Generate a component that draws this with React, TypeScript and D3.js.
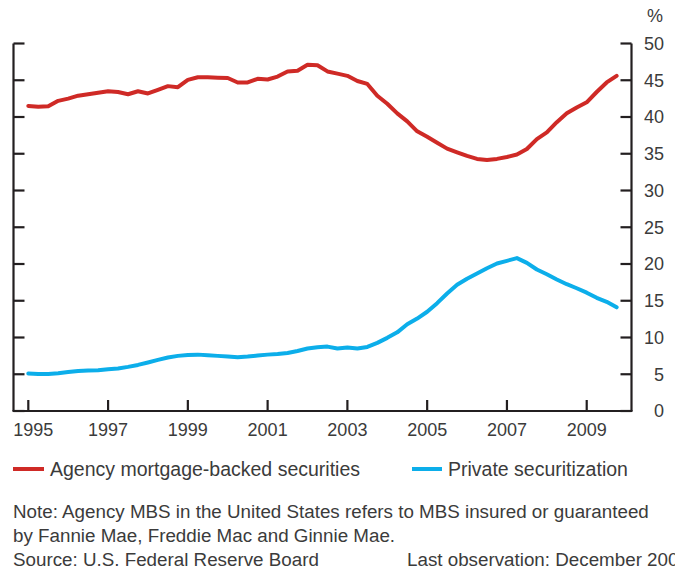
import React from "react";
import * as d3 from "d3";

const startYear = 1995;
const quarters: string[] = d3.range(60).map((i) => `${startYear + Math.floor(i / 4)}Q${(i % 4) + 1}`);

const agency = [
  41.5, 41.4, 41.45, 42.2, 42.5, 42.9, 43.1, 43.3, 43.5, 43.4,
  43.1, 43.5, 43.2, 43.7, 44.2, 44.05, 45.05, 45.4, 45.4, 45.35,
  45.3, 44.7, 44.7, 45.2, 45.1, 45.5, 46.2, 46.3, 47.1, 47.05,
  46.2, 45.9, 45.6, 44.9, 44.5, 42.9, 41.8, 40.5, 39.4, 38.05,
  37.3, 36.5, 35.7, 35.2, 34.7, 34.3, 34.15, 34.3, 34.55, 34.9,
  35.65, 37.0, 37.9, 39.3, 40.5, 41.3, 42.0, 43.4, 44.7, 45.6,
];

const privateSec = [
  5.1, 5.05, 5.05, 5.15, 5.3, 5.45, 5.5, 5.55, 5.68, 5.77,
  6.0, 6.27, 6.6, 6.95, 7.27, 7.5, 7.63, 7.67, 7.58, 7.5,
  7.4, 7.3, 7.4, 7.54, 7.67, 7.76, 7.9, 8.17, 8.5, 8.67,
  8.76, 8.5, 8.63, 8.5, 8.72, 9.27, 9.95, 10.7, 11.8, 12.58,
  13.5, 14.67, 15.98, 17.17, 18.0, 18.7, 19.43, 20.07, 20.43, 20.8,
  20.16, 19.25, 18.6, 17.9, 17.25, 16.7, 16.1, 15.4, 14.85, 14.1,
];

const xTicks = [1995, 1997, 1999, 2001, 2003, 2005, 2007, 2009];
const yTicks = [0, 5, 10, 15, 20, 25, 30, 35, 40, 45, 50];

const seriesNames = ["Agency mortgage-backed securities", "Private securitization"];
const noteLines = [
  "Note: Agency MBS in the United States refers to MBS insured or guaranteed",
  "by Fannie Mae, Freddie Mac and Ginnie Mae.",
];
const sourceText = "Source: U.S. Federal Reserve Board";
const lastObsText = "Last observation: December 2009";

const RED = "#cf2a26";
const BLUE = "#0caeea";
const AXIS = "#231f20";
const TEXT = "#3b3b3b";
const FONT = "'Liberation Sans', Arial, sans-serif";

export default function App() {
  const W = 675;
  const H = 569;
  const left = 13.5;
  const right = 631.5;
  const top = 43.5;
  const bottom = 411;

  const x = d3.scaleLinear().domain([1995, 2010]).range([28.3, 626.6]);
  const y = d3.scaleLinear().domain([0, 50]).range([bottom, top]);

  const qx = (i: number) => {
    const q = quarters[i];
    const yr = +q.slice(0, 4);
    const qq = +q.slice(5);
    return x(yr + (qq - 1) / 4);
  };

  const line = d3
    .line<number>()
    .x((_, i) => qx(i))
    .y((d) => y(d));

  return (
    <svg
      width={W}
      height={H}
      style={{ position: "absolute", left: 0, top: 0, background: "#fff" }}
      fontFamily={FONT}
    >
      {/* axes */}
      <line x1={left} x2={left} y1={top} y2={bottom} stroke={AXIS} strokeWidth={2.2} />
      <line x1={right} x2={right} y1={top} y2={bottom} stroke={AXIS} strokeWidth={2.2} />
      <line x1={left - 1} x2={right + 1} y1={bottom} y2={bottom} stroke={AXIS} strokeWidth={2.2} />
      {yTicks.map((t) => (
        <g key={"y" + t}>
          <line x1={left} x2={left + 11} y1={y(t)} y2={y(t)} stroke={AXIS} strokeWidth={2.2} />
          <line x1={right - 11} x2={right} y1={y(t)} y2={y(t)} stroke={AXIS} strokeWidth={2.2} />
          <text x={664} y={y(t)} dy="0.36em" textAnchor="end" fontSize={18} fill={TEXT}>
            {t}
          </text>
        </g>
      ))}
      <text x={663} y={22} textAnchor="end" fontSize={18} fill={TEXT}>
        %
      </text>
      {xTicks.map((t, i) => (
        <g key={"x" + t}>
          <line x1={x(t)} x2={x(t)} y1={bottom} y2={bottom - 11} stroke={AXIS} strokeWidth={2.2} />
          <text x={x(t) + (i === 0 ? 5 : 0)} y={436} textAnchor="middle" fontSize={18} fill={TEXT}>
            {t}
          </text>
        </g>
      ))}

      {/* series */}
      <path d={line(agency) || ""} fill="none" stroke={RED} strokeWidth={4} strokeLinejoin="round" strokeLinecap="round" />
      <path d={line(privateSec) || ""} fill="none" stroke={BLUE} strokeWidth={4} strokeLinejoin="round" strokeLinecap="round" />

      {/* legend */}
      <line x1={13} x2={44} y1={469} y2={469} stroke={RED} strokeWidth={4} />
      <text x={50} y={476} fontSize={19.5} fill={TEXT}>
        {seriesNames[0]}
      </text>
      <line x1={412} x2={442} y1={469} y2={469} stroke={BLUE} strokeWidth={4} />
      <text x={448} y={476} fontSize={19.5} fill={TEXT}>
        {seriesNames[1]}
      </text>

      {/* notes */}
      {noteLines.map((s, i) => (
        <text key={s} x={13} y={518 + i * 24} fontSize={18.8} fill={TEXT}>
          {s}
        </text>
      ))}
      <text x={13} y={566} fontSize={18.8} fill={TEXT}>
        {sourceText}
      </text>
      <text x={407} y={566} fontSize={18.8} fill={TEXT}>
        {lastObsText}
      </text>
    </svg>
  );
}
